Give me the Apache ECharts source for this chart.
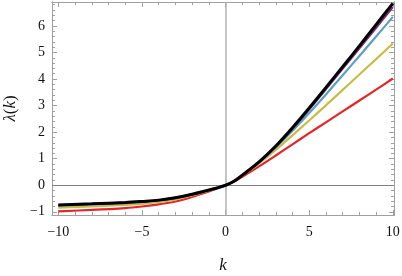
<!DOCTYPE html>
<html><head><meta charset="utf-8">
<script src="https://cdn.jsdelivr.net/npm/echarts@6/dist/echarts.min.js"></script>
<style>html,body{margin:0;padding:0;background:#fff}#c{width:402px;height:276px}</style>
</head><body><div id="c"></div>
<script>
const kValues = [-10,-8,-6,-5,-4,-3,-2,-1,-0.5,0,0.5,1,2,3,4,5,6,7,8,9,10];
const redVals    = [-0.98,-0.93,-0.86,-0.80,-0.72,-0.61,-0.44,-0.23,-0.12,0,0.14,0.32,0.71,1.12,1.54,1.96,2.37,2.78,3.19,3.60,4.02];
const yellowVals = [-0.84,-0.80,-0.74,-0.70,-0.63,-0.53,-0.38,-0.20,-0.10,0,0.15,0.36,0.82,1.33,1.88,2.44,3.01,3.59,4.17,4.75,5.34];
const blueVals   = [-0.76,-0.72,-0.67,-0.63,-0.575,-0.485,-0.35,-0.185,-0.10,0,0.15,0.37,0.86,1.42,2.05,2.72,3.42,4.14,4.87,5.60,6.34];
const purpleVals = [-0.745,-0.705,-0.655,-0.615,-0.565,-0.475,-0.345,-0.18,-0.10,0,0.15,0.38,0.87,1.46,2.13,2.86,3.62,4.39,5.16,5.93,6.71];
const blackVals  = [-0.74,-0.70,-0.65,-0.61,-0.56,-0.47,-0.34,-0.18,-0.10,0,0.15,0.38,0.88,1.48,2.17,2.91,3.68,4.46,5.25,6.05,6.85];
const xMajorTicks = [-10,-5,0,5,10];
const xMinorTicks = [-10,-9,-8,-7,-6,-5,-4,-3,-2,-1,0,1,2,3,4,5,6,7,8,9,10];
const yMajorTicks = [-1,0,1,2,3,4,5,6];
const yMinorTicks = [-1,-0.8,-0.6,-0.4,-0.2,0,0.2,0.4,0.6,0.8,1,1.2,1.4,1.6,1.8,2,2.2,2.4,2.6,2.8,3,3.2,3.4,3.6,3.8,4,4.2,4.4,4.6,4.8,5,5.2,5.4,5.6,5.8,6,6.2,6.4,6.6,6.8];

const FRAME = '#a0a0a0';
const FONT = 'Liberation Serif';
const minus = v => String(v).replace('-', '\u2212');
const XMIN = -10.38, XMAX = 10.07, YMIN = -1.12, YMAX = 6.9;

function xAx(pos, ticks, len, labels, extra) {
  return Object.assign({
    type: 'value', min: XMIN, max: XMAX, position: pos,
    axisLine: { show: true, onZero: false, lineStyle: { color: FRAME, width: 1 } },
    axisTick: { show: true, inside: true, length: len, customValues: ticks, lineStyle: { color: FRAME, width: 1 } },
    axisLabel: labels ? { show: true, customValues: ticks, formatter: minus, fontFamily: FONT, fontSize: 14, color: '#111', margin: 10 } : { show: false },
    splitLine: { show: false }
  }, extra || {});
}
function yAx(pos, ticks, len, labels, extra) {
  return Object.assign({
    type: 'value', min: YMIN, max: YMAX, position: pos,
    axisLine: { show: true, onZero: false, lineStyle: { color: FRAME, width: 1 } },
    axisTick: { show: true, inside: true, length: len, customValues: ticks, lineStyle: { color: FRAME, width: 1 } },
    axisLabel: labels ? { show: true, customValues: ticks, formatter: minus, fontFamily: FONT, fontSize: 14, color: '#111', margin: 7 } : { show: false },
    splitLine: { show: false }
  }, extra || {});
}

function mk(vals, color, width, z) {
  return {
    type: 'line', xAxisIndex: 0, yAxisIndex: 0, smooth: 0.35, showSymbol: false, symbol: 'none', z: z,
    lineStyle: { color: color, width: width },
    data: kValues.map((k, i) => [k, vals[i]])
  };
}

const chart = echarts.init(document.getElementById('c'), null, { renderer: 'canvas' });
const series = [
  mk(redVals, '#e2262a', 2.2, 3),
  mk(yellowVals, '#c9bc46', 2.2, 4),
  mk(blueVals, '#5b9fc2', 2.2, 5),
  mk(purpleVals, '#7c2a7e', 2.2, 6),
  mk(blackVals, '#000000', 3, 7)
];
series[0].markLine = {
  silent: true, symbol: 'none', label: { show: false }, animation: false,
  data: [
    { xAxis: 0, lineStyle: { color: '#b0b0b0', width: 1.5, type: 'solid' } },
    { yAxis: 0, lineStyle: { color: '#808080', width: 1, type: 'solid' } }
  ]
};

chart.setOption({
  animation: false,
  grid: { left: 52, right: 8, top: 2, bottom: 61, containLabel: false, outerBoundsMode: 'none' },
  xAxis: [
    xAx('bottom', xMajorTicks, 5, true, {
      name: 'k', nameLocation: 'middle', nameGap: 42,
      nameTextStyle: { fontFamily: FONT, fontSize: 17, fontStyle: 'italic', color: '#111' }
    }),
    xAx('bottom', xMinorTicks, 3, false),
    xAx('top', xMajorTicks, 5, false),
    xAx('top', xMinorTicks, 3, false)
  ],
  yAxis: [
    yAx('left', yMajorTicks, 5, true, {
      name: '{i|\u03bb}({i|k})', nameLocation: 'middle', nameGap: 30, nameRotate: 90,
      nameTextStyle: { fontFamily: FONT, fontSize: 17, color: '#111', rich: { i: { fontStyle: 'italic', fontFamily: FONT, fontSize: 17 } } }
    }),
    yAx('left', yMinorTicks, 3, false),
    yAx('right', yMajorTicks, 5, false),
    yAx('right', yMinorTicks, 3, false)
  ],
  series: series
});
</script></body></html>
